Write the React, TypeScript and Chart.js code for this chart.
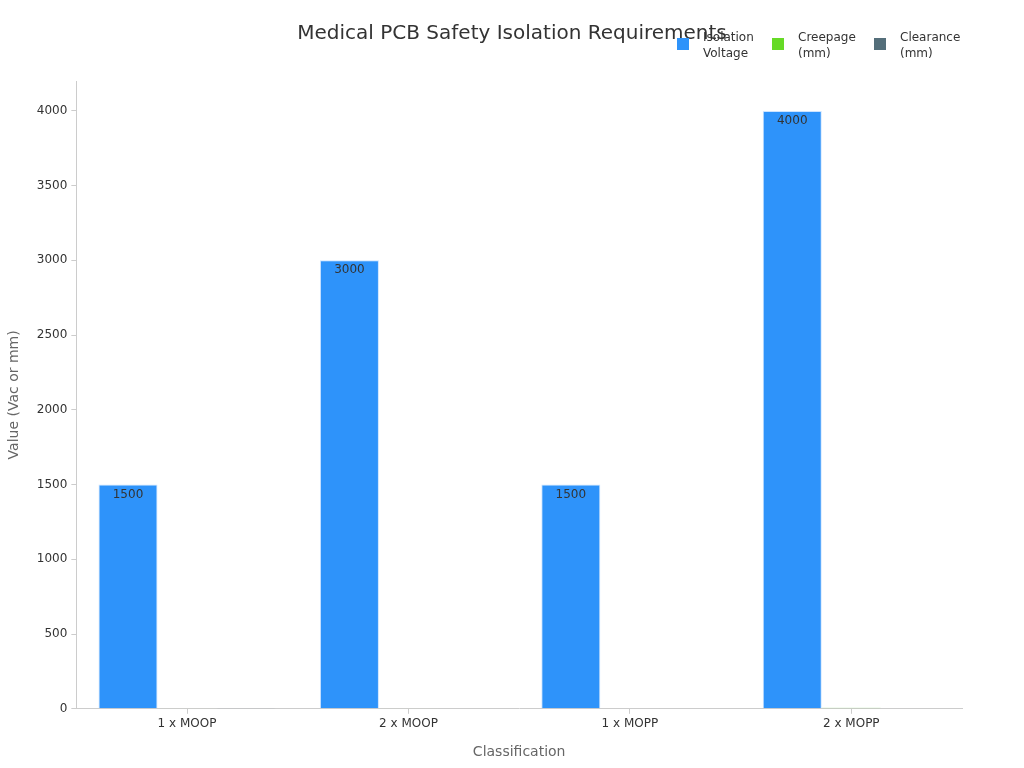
import React, { useEffect, useRef } from "react";
import { Chart, registerables } from "chart.js";

Chart.register(...registerables);

const categories = ["1 x MOOP", "2 x MOOP", "1 x MOPP", "2 x MOPP"];
const isolationVoltage = [1500, 3000, 1500, 4000];
const creepage = [2.5, 5, 4, 8];
const clearance = [2, 4, 2.5, 5];
const seriesLabels = [["Isolation", "Voltage"], ["Creepage", "(mm)"], ["Clearance", "(mm)"]];
const seriesColors = ["#2E93FA", "#66DA26", "#546E7A"];
const yTicks = [0, 500, 1000, 1500, 2000, 2500, 3000, 3500, 4000];

const FONT = "'DejaVu Sans', 'Noto Sans', sans-serif";

const titlePlugin = {
  id: "customTitle",
  afterDraw(chart: any) {
    const ctx = chart.ctx;
    ctx.save();
    ctx.font = `20px ${FONT}`;
    ctx.fillStyle = "#333333";
    ctx.textAlign = "center";
    ctx.textBaseline = "middle";
    ctx.fillText("Medical PCB Safety Isolation Requirements", 512, 34);
    ctx.restore();
  },
};

const legendPlugin = {
  id: "customLegend",
  afterDraw(chart: any) {
    const ctx = chart.ctx;
    const boxX = [677, 772, 874];
    ctx.save();
    ctx.font = `12px ${FONT}`;
    ctx.textAlign = "left";
    ctx.textBaseline = "middle";
    chart.data.datasets.forEach((ds: any, i: number) => {
      ctx.fillStyle = seriesColors[i];
      ctx.fillRect(boxX[i], 38, 12, 12);
      ctx.fillStyle = "#333333";
      const lines = seriesLabels[i];
      lines.forEach((t, li) => ctx.fillText(t, boxX[i] + 26, 37.5 + li * 16));
    });
    ctx.restore();
  },
};

const labelPlugin = {
  id: "barLabels",
  afterDatasetsDraw(chart: any) {
    const ctx = chart.ctx;
    ctx.save();
    ctx.font = `12px ${FONT}`;
    ctx.fillStyle = "#333333";
    ctx.textAlign = "center";
    ctx.textBaseline = "top";
    chart.data.datasets.forEach((ds: any, di: number) => {
      const meta = chart.getDatasetMeta(di);
      meta.data.forEach((bar: any, i: number) => {
        const v = ds.data[i];
        if (bar.base - bar.y > 20) {
          ctx.fillText(String(v), bar.x, bar.y + 4);
        }
      });
    });
    ctx.restore();
  },
};

export default function App() {
  const ref = useRef<HTMLCanvasElement>(null);
  useEffect(() => {
    if (!ref.current) return;
    const chart = new Chart(ref.current, {
      type: "bar",
      data: {
        labels: categories,
        datasets: [
          { label: seriesLabels[0].join(" "), data: isolationVoltage, backgroundColor: seriesColors[0], borderColor: "rgba(200,225,255,0.9)", borderWidth: 1 },
          { label: seriesLabels[1].join(" "), data: creepage, backgroundColor: seriesColors[1], borderColor: "rgba(200,240,190,0.9)", borderWidth: 1 },
          { label: seriesLabels[2].join(" "), data: clearance, backgroundColor: seriesColors[2], borderColor: "rgba(200,210,215,0.9)", borderWidth: 1 },
        ],
      },
      options: {
        responsive: false,
        animation: false,
        layout: { padding: { top: 81, right: 62, bottom: 3, left: 2 } },
        datasets: { bar: { categoryPercentage: 0.8, barPercentage: 1.0 } } as any,
        plugins: {
          title: { display: false },
          tooltip: { enabled: false },
          legend: { display: false },
        },
        scales: {
          x: {
            grid: { drawOnChartArea: false, drawTicks: true, tickLength: 5, color: "#cccccc", offset: false },
            border: { color: "#cccccc" },
            ticks: { color: "#333333", font: { size: 12, family: FONT } },
            title: { display: true, text: "Classification", color: "#666666", font: { size: 14, family: FONT }, padding: { top: 10 } },
          },
          y: {
            min: 0,
            max: 4200,
            grid: { drawOnChartArea: false, drawTicks: true, tickLength: 5, color: "#cccccc" },
            border: { color: "#cccccc" },
            afterBuildTicks(axis: any) {
              axis.ticks = yTicks.map((v) => ({ value: v }));
            },
            ticks: { color: "#333333", font: { size: 12, family: FONT }, padding: 4, callback: (v: any) => String(v) },
            title: { display: true, text: "Value (Vac or mm)", color: "#666666", font: { size: 14, family: FONT }, padding: { bottom: 10 } },
          },
        },
      },
      plugins: [titlePlugin, legendPlugin, labelPlugin],
    });
    return () => chart.destroy();
  }, []);
  return (
    <div style={{ position: "absolute", left: 0, top: 0, width: 1024, height: 768, background: "#fff" }}>
      <canvas ref={ref} width={1024} height={768} />
    </div>
  );
}
